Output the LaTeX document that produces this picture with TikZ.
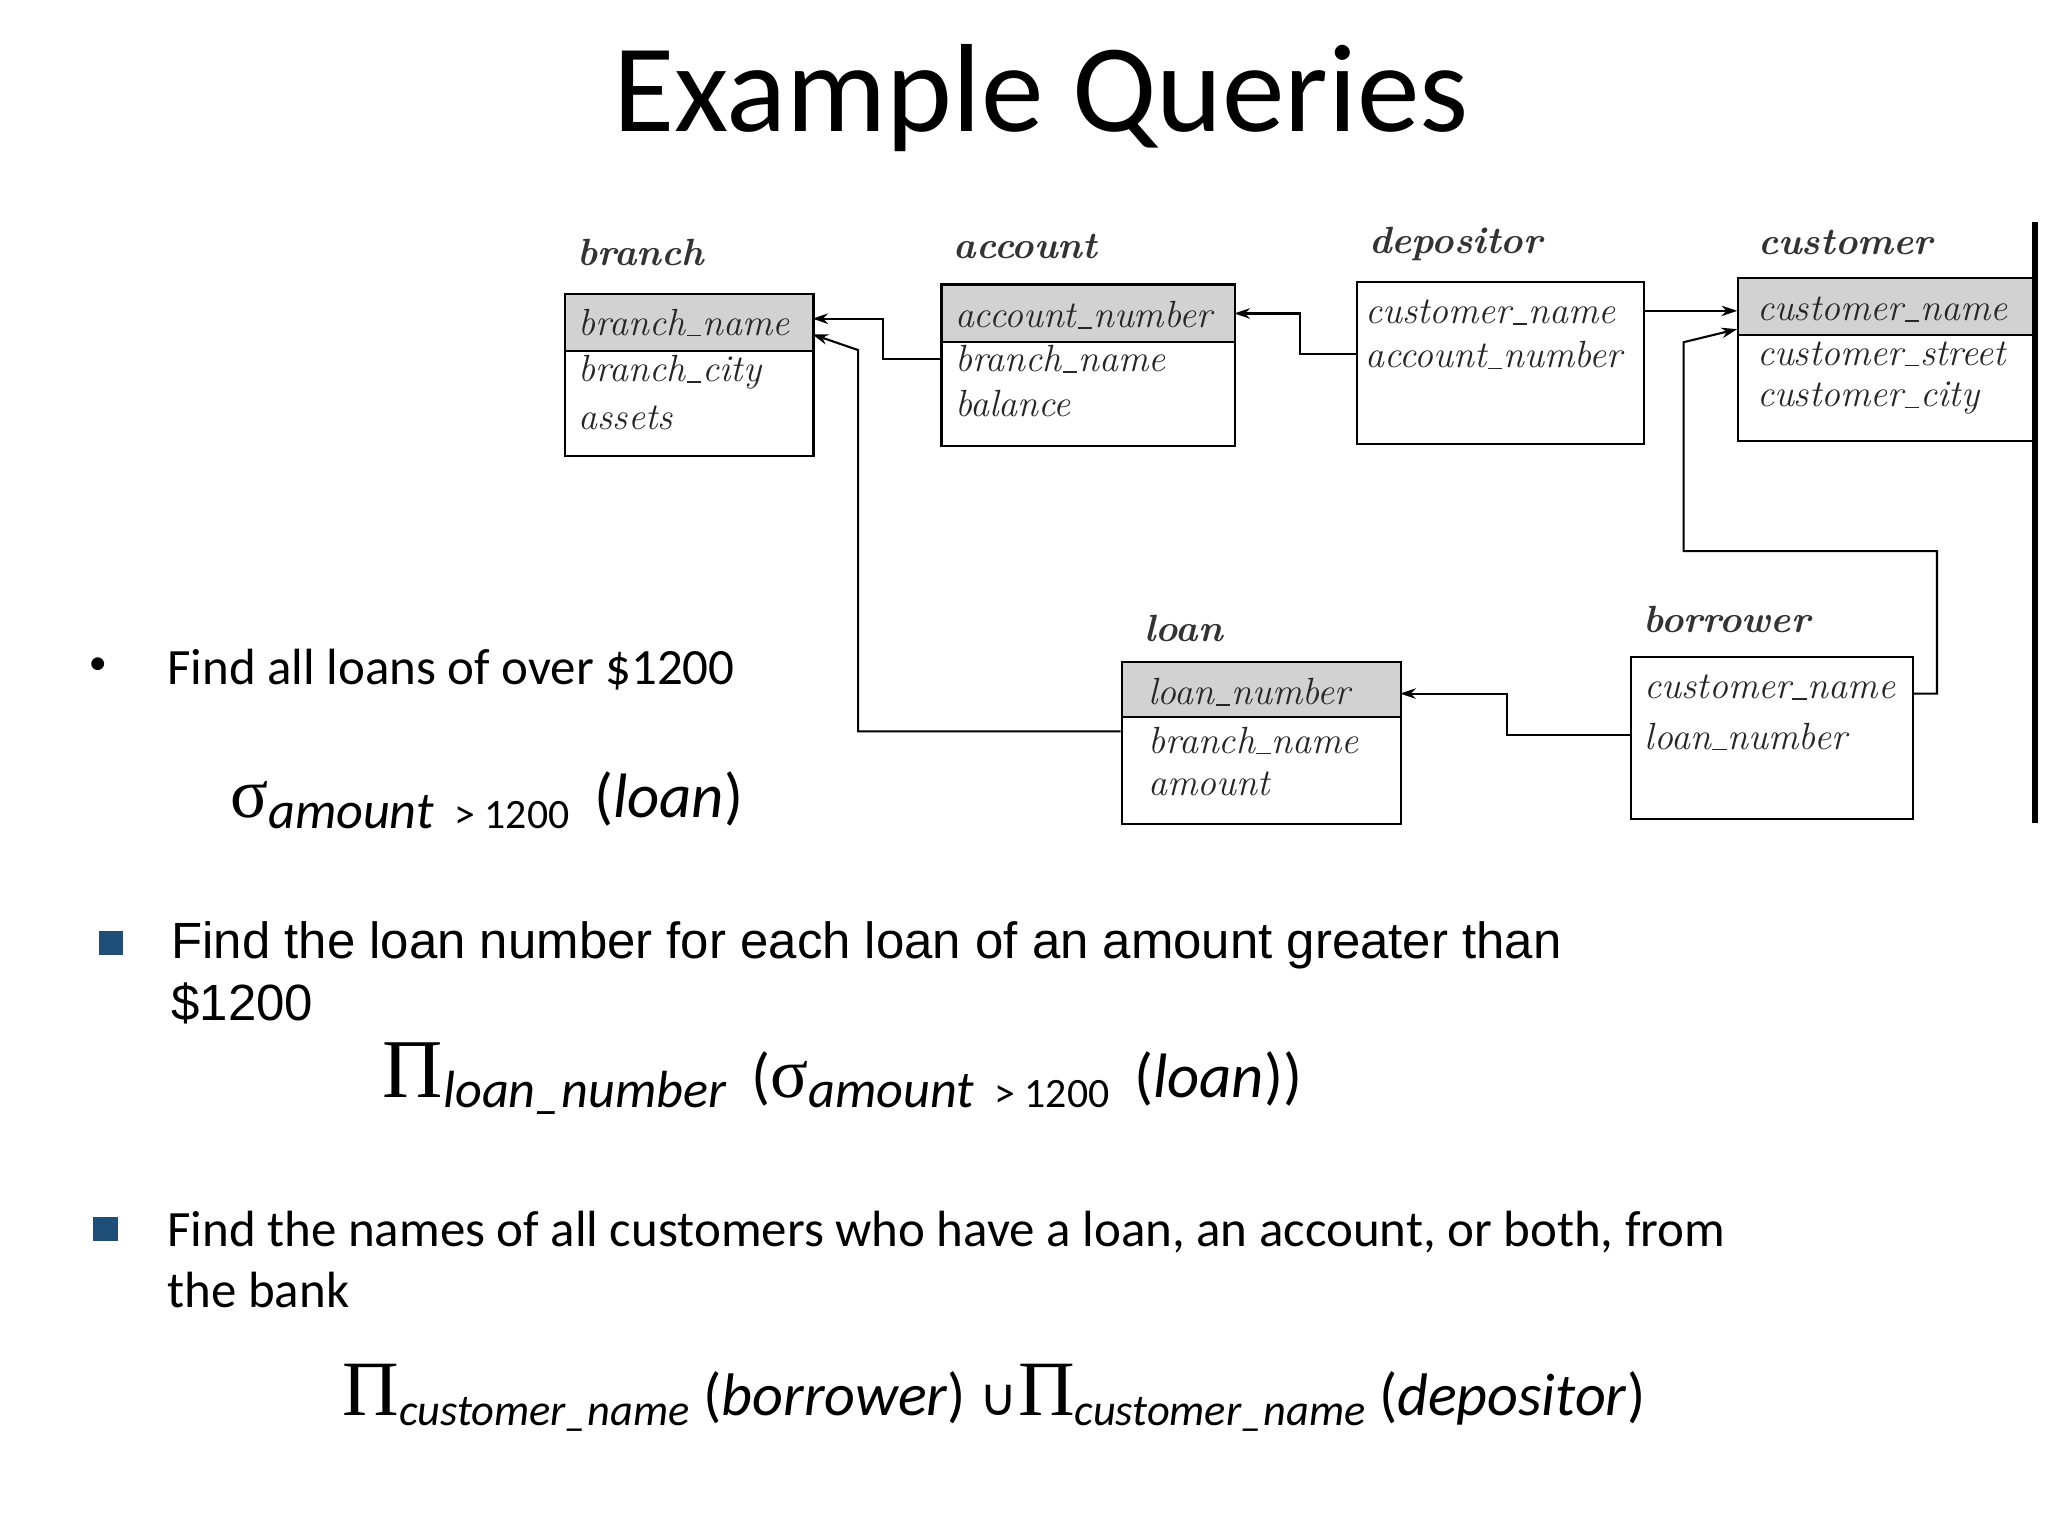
\documentclass[tikz,border=0pt]{standalone}
\usepackage{fontspec}
\newfontfamily\carl{Carlito}
\newfontfamily\ars{Liberation Sans}
\newfontfamily\srf{Liberation Serif}
\newfontfamily\djv{DejaVu Sans}
\usetikzlibrary{arrows.meta}
\newcommand{\us}{\kern1pt\rule[-1pt]{11pt}{1.2pt}\kern1pt}
\begin{document}
\begin{tikzpicture}[x=1pt,y=-1pt,
  box/.style={draw,line width=1.6pt,anchor=north west,inner sep=0},
  hdr/.style={fill=gray!35,anchor=north west,inner sep=0,draw,line width=1.6pt},
  att/.style={anchor=west,font=\fontsize{29}{30}\selectfont\itshape,text=black!85,inner sep=0},
  ttl/.style={anchor=west,font=\fontsize{29}{30}\selectfont\bfseries\itshape,text=black!80,inner sep=0},
  con/.style={line width=1.6pt,-{Stealth[length=12pt,width=8pt]}},
  cb/.style={anchor=base west,inner sep=0,font=\carl\fontsize{39}{42}\selectfont},
  ab/.style={anchor=base west,inner sep=0,font=\ars\fontsize{39}{42}\selectfont},
  fm/.style={anchor=base west,inner sep=0,font=\carl\fontsize{48}{50}\selectfont},
  sq/.style={fill={rgb,255:red,31;green,78;blue,121},minimum size=19pt,inner sep=0}]
\useasboundingbox (0,0) rectangle (1568,1176);
\fill[white] (0,0) rectangle (1568,1176);
\node[font=\carl\fontsize{96}{100}\selectfont] (title) at (797,75) {Example Queries};
% boxes
\node[hdr,minimum width=190,minimum height=44] (bh) at (432,224) {};
\node[box,minimum width=190,minimum height=124] (br) at (432,224) {};
\node[hdr,minimum width=225,minimum height=44] (ah) at (720,217) {};
\node[box,minimum width=225,minimum height=124] (ac) at (720,217) {};
\node[box,minimum width=220,minimum height=124] (de) at (1038,215) {};
\node[hdr,minimum width=226,minimum height=44] (ch) at (1330,212) {};
\node[box,minimum width=226,minimum height=125] (cu) at (1330,212) {};
\node[hdr,minimum width=214,minimum height=42] (lh) at (858,506) {};
\node[box,minimum width=214,minimum height=124] (lo) at (858,506) {};
\node[box,minimum width=216,minimum height=124] (bo) at (1248,502) {};
\draw[line width=4pt] (1558,170) -- (1558,630);
% titles
\node[ttl] (t1) at (442,193) {branch};
\node[ttl] (t2) at (730,189) {account};
\node[ttl] (t3) at (1048,187) {depositor};
\node[ttl] (t4) at (1346,186) {customer};
\node[ttl] (t5) at (876,481) {loan};
\node[ttl] (t6) at (1258,474) {borrower};
% attributes
\node[att] (b1) at (443,247) {branch\us name};
\node[att] (b2) at (443,285) {branch\us city};
\node[att] (b3) at (443,320) {assets};
\node[att] (a1) at (731,241) {account\us number};
\node[att] (a2) at (731,275) {branch\us name};
\node[att] (a3) at (731,309) {balance};
\node[att] (d1) at (1045,239) {customer\us name};
\node[att] (d2) at (1045,272) {account\us number};
\node[att] (c1) at (1345,237) {customer\us name};
\node[att] (c2) at (1345,271) {customer\us street};
\node[att] (c3) at (1345,305) {customer\us city};
\node[att] (l1) at (879,530) {loan\us number};
\node[att] (l2) at (879,567) {branch\us name};
\node[att] (l3) at (879,600) {amount};
\node[att] (o1) at (1259,526) {customer\us name};
\node[att] (o2) at (1259,564) {loan\us number};
% connector endpoints
\coordinate (pA2) at (720,275); \coordinate (pB1) at (622,244);
\coordinate (pD2) at (1038,271); \coordinate (pA1) at (945,240);
\coordinate (pD1) at (1258,238); \coordinate (pC1) at (1330,238);
\coordinate (pO1) at (1464,531); \coordinate (pC2) at (1330,252);
\coordinate (pO2) at (1248,563); \coordinate (pL1) at (1072,531);
\coordinate (pL2) at (858,560); \coordinate (pB2) at (622,256);
\draw[con] (pA2) -| (676,260) |- (pB1);
\draw[con] (pD2) -| (995,255) |- (pA1);
\draw[con] (pD1) -- (pC1);
\draw[con] (pO1) -- (1483,531) -- (1483,422) -- (1289,422) -- (1289,262) -- (pC2);
\draw[con] (pO2) -| (1154,545) |- (pL1);
\draw[con] (pL2) -- (657,560) -- (657,268) -- (pB2);
% text
\node[font=\fontsize{44}{44}\selectfont] (bul) at (75,512) {\textbullet};
\node[cb] (q1) at (128,524) {Find all loans of over \$1200};
\node[fm] (f1) at (176,626) {{\srf\fontsize{54}{54}\selectfont σ}\raisebox{-0.35ex}{\fontsize{40}{42}\selectfont\itshape amount\, \upshape\fontsize{32}{34}\selectfont> 1200}\, (\textit{loan})};
\node[sq] (s2) at (85,722) {};
\node[ab] (q2) at (131,734) {Find the loan number for each loan of an amount greater than};
\node[ab] (q2b) at (131,781) {\$1200};
\node[fm] (f2) at (293,840) {{\srf\fontsize{64}{64}\selectfont Π}\raisebox{-0.35ex}{\fontsize{40}{42}\selectfont\itshape loan\_number}\, ({\srf\fontsize{54}{54}\selectfont σ}\raisebox{-0.35ex}{\fontsize{40}{42}\selectfont\itshape amount\, \upshape\fontsize{32}{34}\selectfont> 1200}\, (\textit{loan}))};
\node[sq] (s3) at (81,941) {};
\node[cb] (q3) at (128,954) {Find the names of all customers who have a loan, an account, or both, from};
\node[cb] (q3b) at (128,1001) {the bank};
\node[fm,font=\carl\fontsize{46}{48}\selectfont] (f3) at (262,1084) {{\srf\fontsize{60}{60}\selectfont Π}\raisebox{-0.35ex}{\fontsize{34}{36}\selectfont\itshape customer\_name} (\textit{borrower}) {\djv\fontsize{40}{40}\selectfont ∪}{\srf\fontsize{60}{60}\selectfont Π}\raisebox{-0.35ex}{\fontsize{34}{36}\selectfont\itshape customer\_name} (\textit{depositor})};
\end{tikzpicture}
\end{document}
